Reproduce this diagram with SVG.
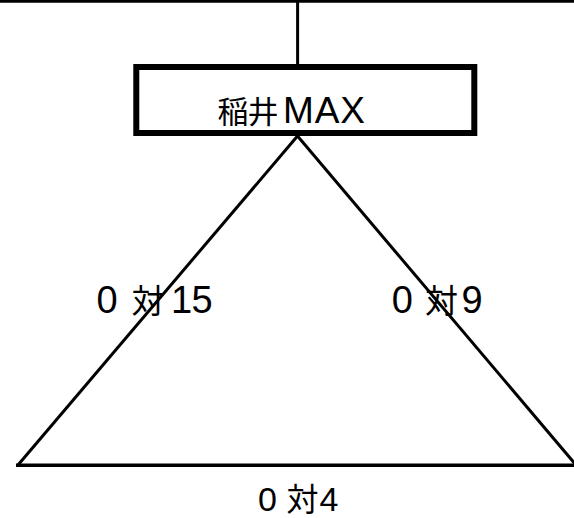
<svg xmlns="http://www.w3.org/2000/svg" width="574" height="518" viewBox="0 0 574 518">
<style>
.ln{stroke:#000;stroke-width:3;fill:none;stroke-linecap:butt}
.box{fill:#fff;stroke:#000;stroke-width:6}
.t{font-family:"Liberation Sans","Noto Sans CJK JP",sans-serif;fill:#000}
.cjk{font-family:"Noto Sans CJK JP","Liberation Sans",sans-serif}
</style>
<rect width="574" height="518" fill="#fff"/>
<g id="connectors">
<line class="ln" x1="0" y1="1.3" x2="574" y2="1.3"/>
<line class="ln" x1="297.6" y1="0" x2="297.6" y2="64"/>
<line class="ln" x1="297.5" y1="136" x2="18" y2="465"/>
<line class="ln" x1="297.5" y1="136" x2="576" y2="465"/>
<line class="ln" x1="16" y1="465.3" x2="576" y2="465.3" style="stroke-width:3.6"/>
</g>
<g id="node-inai">
<rect class="box" x="136.3" y="67" width="338" height="66"/>
<text class="t" y="122.7" font-size="37"><tspan class="cjk" x="217.5" font-size="31">稲</tspan><tspan class="cjk" x="247.5" font-size="31">井</tspan><tspan x="283" textLength="82">MAX</tspan></text>
</g>
<g id="labels">
<text class="t" y="313" font-size="38"><tspan x="96.5">0</tspan><tspan class="cjk" x="131.5" font-size="33">対</tspan><tspan x="171">1</tspan><tspan x="191.5">5</tspan></text>
<text class="t" y="313" font-size="38"><tspan x="391.8">0</tspan><tspan class="cjk" x="425" font-size="33">対</tspan><tspan x="461.5">9</tspan></text>
<text class="t" y="510.5" font-size="34"><tspan x="258">0</tspan><tspan class="cjk" x="286.5" font-size="32">対</tspan><tspan x="319.5">4</tspan></text>
</g>
</svg>
